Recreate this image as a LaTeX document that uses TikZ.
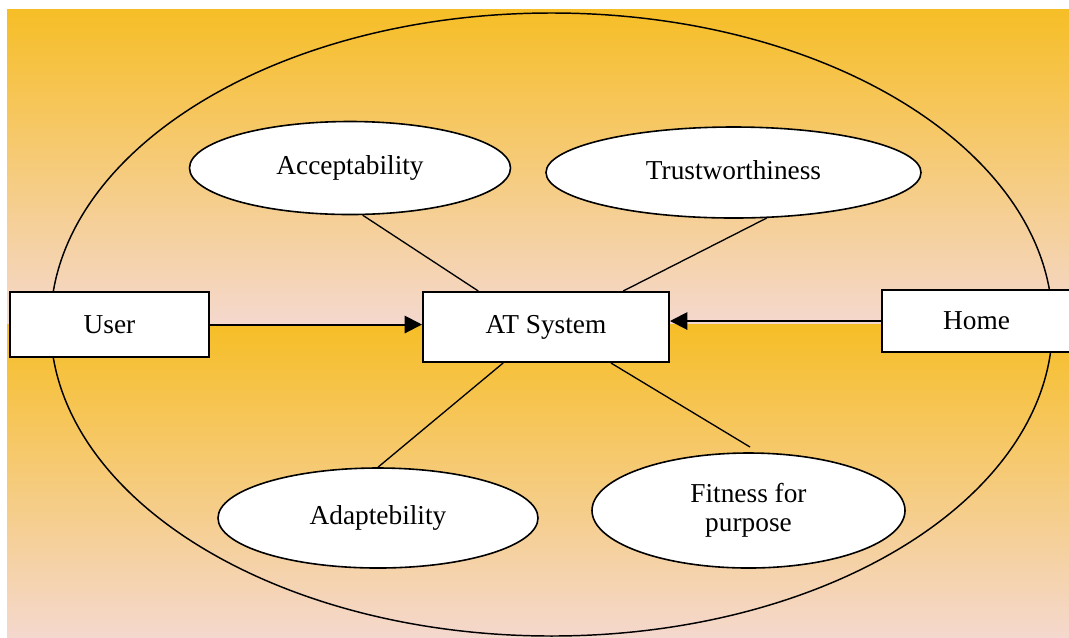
\documentclass[tikz,border=0pt]{standalone}
\usepackage{fontspec}
\setmainfont{Liberation Serif}
\usetikzlibrary{shapes.geometric,arrows.meta}
\definecolor{bgyellow}{RGB}{246,190,38}
\definecolor{bgpink}{RGB}{245,216,206}
\tikzset{
  box/.style={draw=black, line width=1.5pt, fill=white, rectangle, inner sep=0pt, font=\fontsize{20.5}{24}\selectfont},
  oval/.style={draw=black, line width=1.2pt, fill=white, ellipse, inner sep=0pt, align=center, font=\fontsize{20.5}{23}\selectfont},
  link/.style={draw=black, line width=1pt},
  arr/.style={draw=black, line width=1.5pt, -{Triangle[length=13pt,width=13pt]}},
}
\begin{document}
\begin{tikzpicture}[x=0.75pt,y=-0.75pt]
\clip (0,0) rectangle (1069,637);
\fill[white] (0,0) rectangle (1069,637);
\shade[top color=bgyellow, bottom color=bgpink] (7,9) rectangle (1069,324);
\shade[top color=bgyellow, bottom color=bgpink] (7,324) rectangle (1069,637);
\draw[line width=1.1pt] (551.5,324.5) ellipse [x radius=501, y radius=311.5];

\node[box, minimum width=149.25pt, minimum height=48.75pt] (user) at (109.5,324.5) {User};
\node[box, minimum width=184.5pt, minimum height=52.5pt] (at) at (546,327) {AT System};
\node[box, minimum width=144.75pt, minimum height=46.5pt] (home) at (978.5,321) {\hspace*{-3pt}Home};

\node[oval, minimum width=240.75pt, minimum height=69.75pt] (acc) at (350,168) {\raisebox{3.5pt}{Acceptability}};
\node[oval, minimum width=281.25pt, minimum height=68.25pt] (trust) at (733.5,172.5) {\raisebox{3pt}{Trustworthiness}};
\node[oval, minimum width=240pt, minimum height=75pt] (adapt) at (378,518) {\raisebox{1.5pt}{Adaptebility}};
\node[oval, minimum width=234.75pt, minimum height=86.25pt] (fit) at (748.5,510.5) {\raisebox{3pt}{Fitness for}\\[-4pt]purpose};
\coordinate (fitend) at (750,447);

\draw[link] (acc.-75) -- (at.152);
\draw[link] (trust.-54) -- (at.25);
\draw[link] (at.-140) -- (adapt.north);
\draw[link] (at.-29.4) -- (fitend);

\draw[arr] (user.east) -- (user.east -| at.west);
\draw[arr] (home.west) -- (home.west -| at.east);
\end{tikzpicture}
\end{document}
